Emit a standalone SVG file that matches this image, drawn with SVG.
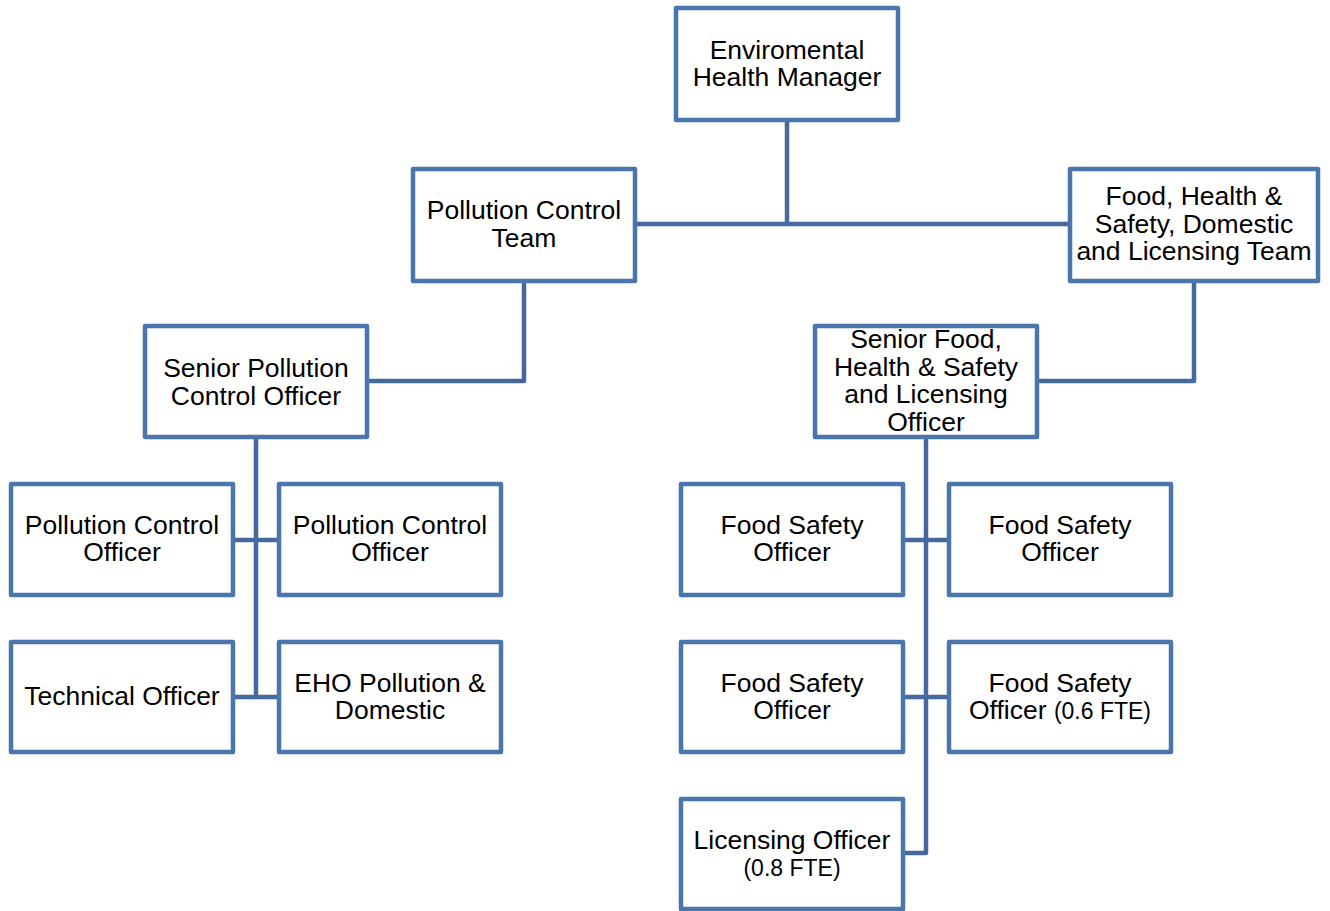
<svg xmlns="http://www.w3.org/2000/svg" width="1330" height="911" viewBox="0 0 1330 911">
  <style>
    .box { fill: #ffffff; stroke: #4A76AC; stroke-width: 4.5; stroke-linejoin: round; }
    .link { fill: none; stroke: #45699E; stroke-width: 4.5; stroke-linejoin: round; }
    text { font-family: "Liberation Sans", Arial, sans-serif; font-size: 26.5px; fill: #000000; text-anchor: middle; }
    .small { font-size: 23px; }
  </style>
  <rect width="1330" height="911" fill="#ffffff"/>

  <!-- reporting lines -->
  <g id="connectors">
    <path class="link" d="M787,120 V224"/>
    <path class="link" d="M635,224 H1070"/>
    <path class="link" d="M524,281 V381 H367"/>
    <path class="link" d="M1194,281 V381 H1037"/>
    <path class="link" d="M256,437 V697"/>
    <path class="link" d="M233,540 H279"/>
    <path class="link" d="M233,697 H279"/>
    <path class="link" d="M926,437 V853 H903"/>
    <path class="link" d="M903,540 H949"/>
    <path class="link" d="M903,697 H949"/>
  </g>

  <g id="env-health-manager">
    <rect class="box" x="676" y="8" width="222" height="112"/>
    <text x="787" y="58.5">Enviromental</text>
    <text x="787" y="86">Health Manager</text>
  </g>

  <g id="pollution-control-team">
    <rect class="box" x="413" y="169" width="222" height="112"/>
    <text x="524" y="219">Pollution Control</text>
    <text x="524" y="247">Team</text>
  </g>

  <g id="food-health-safety-team">
    <rect class="box" x="1070" y="169" width="248" height="112"/>
    <text x="1194" y="205">Food, Health &amp;</text>
    <text x="1194" y="232.5">Safety, Domestic</text>
    <text x="1194" y="260">and Licensing Team</text>
  </g>

  <g id="senior-pollution-officer">
    <rect class="box" x="145" y="326" width="222" height="111"/>
    <text x="256" y="377">Senior Pollution</text>
    <text x="256" y="405">Control Officer</text>
  </g>

  <g id="senior-food-officer">
    <rect class="box" x="815" y="326" width="222" height="111"/>
    <text x="926" y="348">Senior Food,</text>
    <text x="926" y="375.5">Health &amp; Safety</text>
    <text x="926" y="403">and Licensing</text>
    <text x="926" y="430.5">Officer</text>
  </g>

  <g id="pollution-officer-1">
    <rect class="box" x="11" y="484" width="222" height="111"/>
    <text x="122" y="533.5">Pollution Control</text>
    <text x="122" y="561">Officer</text>
  </g>

  <g id="pollution-officer-2">
    <rect class="box" x="279" y="484" width="222" height="111"/>
    <text x="390" y="533.5">Pollution Control</text>
    <text x="390" y="561">Officer</text>
  </g>

  <g id="technical-officer">
    <rect class="box" x="11" y="642" width="222" height="110"/>
    <text x="122" y="705">Technical Officer</text>
  </g>

  <g id="eho-pollution-domestic">
    <rect class="box" x="279" y="642" width="222" height="110"/>
    <text x="390" y="691.5">EHO Pollution &amp;</text>
    <text x="390" y="719">Domestic</text>
  </g>

  <g id="food-safety-officer-1">
    <rect class="box" x="681" y="484" width="222" height="111"/>
    <text x="792" y="533.5">Food Safety</text>
    <text x="792" y="561">Officer</text>
  </g>

  <g id="food-safety-officer-2">
    <rect class="box" x="949" y="484" width="222" height="111"/>
    <text x="1060" y="533.5">Food Safety</text>
    <text x="1060" y="561">Officer</text>
  </g>

  <g id="food-safety-officer-3">
    <rect class="box" x="681" y="642" width="222" height="110"/>
    <text x="792" y="691.5">Food Safety</text>
    <text x="792" y="719">Officer</text>
  </g>

  <g id="food-safety-officer-4">
    <rect class="box" x="949" y="642" width="222" height="110"/>
    <text x="1060" y="691.5">Food Safety</text>
    <text x="1060" y="719">Officer <tspan class="small">(0.6 FTE)</tspan></text>
  </g>

  <g id="licensing-officer">
    <rect class="box" x="681" y="799" width="222" height="110"/>
    <text x="792" y="848.5">Licensing Officer</text>
    <text class="small" x="792" y="876">(0.8 FTE)</text>
  </g>
</svg>
